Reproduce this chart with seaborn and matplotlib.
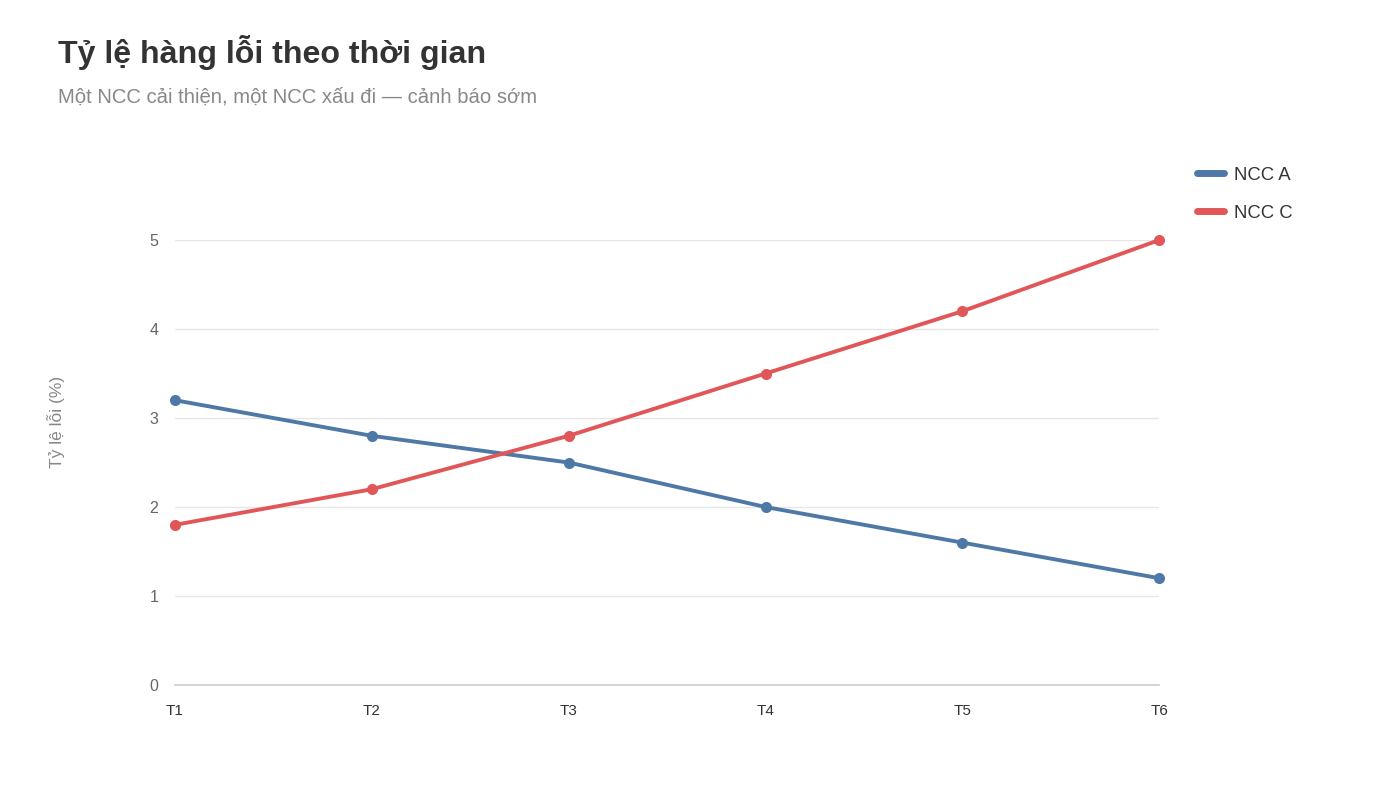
import matplotlib
matplotlib.use("Agg")
import matplotlib.pyplot as plt
import seaborn as sns
import pandas as pd
from matplotlib.lines import Line2D

periods = ["T1", "T2", "T3", "T4", "T5", "T6"]
ncc_a = [3.2, 2.8, 2.5, 2.0, 1.6, 1.2]
ncc_c = [1.8, 2.2, 2.8, 3.5, 4.2, 5.0]
series_names = ["NCC A", "NCC C"]
colors = ["#4e79a7", "#e15759"]
y_ticks = [0, 1, 2, 3, 4, 5]

title = "Tỷ lệ hàng lỗi theo thời gian"
subtitle = "Một NCC cải thiện, một NCC xấu đi — cảnh báo sớm"
y_label = "Tỷ lệ lỗi (%)"

df = pd.DataFrame({
    "period": periods * 2,
    "x": list(range(len(periods))) * 2,
    "value": ncc_a + ncc_c,
    "series": [series_names[0]] * len(periods) + [series_names[1]] * len(periods),
})

sns.set_theme(style="white")
plt.rcParams["font.family"] = ["Liberation Sans", "DejaVu Sans"]

fig = plt.figure(figsize=(14, 7.87), dpi=100)
ax = fig.add_axes([0.125, 0.1296, 0.703, 0.5654])

sns.lineplot(data=df, x="x", y="value", hue="series", palette=colors,
             marker="o", markersize=8, markeredgewidth=0, linewidth=2.8,
             ax=ax, legend=False)
for line in ax.lines:
    line.set_clip_on(False)

ax.set_xlim(0, len(periods) - 1)
ax.set_ylim(0, 5)
ax.set_xticks(range(len(periods)))
ax.set_xticklabels(periods, fontsize=11, color="#333333")
ax.set_yticks(y_ticks)
ax.set_yticklabels([str(t) for t in y_ticks], fontsize=11.5, color="#666666")
ax.tick_params(axis="x", length=0, pad=14)
ax.tick_params(axis="y", length=0, pad=12)
ax.grid(axis="y", color="#e6e6e6", linewidth=1)
ax.set_axisbelow(True)
for s in ["top", "right", "left"]:
    ax.spines[s].set_visible(False)
ax.spines["bottom"].set_color("#cccccc")
ax.spines["bottom"].set_linewidth(1.2)
ax.set_xlabel("")
ax.set_ylabel("")

fig.text(56 / 1400, 1 - 422 / 787, y_label, rotation=90, fontsize=12.5,
         color="#888888", ha="center", va="center")

fig.text(58 / 1400, 1 - 53 / 787, title, fontsize=23.1, fontweight="bold",
         color="#333333", ha="left", va="center")
fig.text(58 / 1400, 1 - 97 / 787, subtitle, fontsize=14.6,
         color="#888888", ha="left", va="center")

handles = [Line2D([0], [0], color=c, linewidth=5, solid_capstyle="round") for c in colors]
leg = fig.legend(handles, series_names, loc="upper left",
                 bbox_to_anchor=(1180 / 1400, 1 - 150 / 787), frameon=False,
                 fontsize=13.3, handlelength=1.5, handletextpad=0.55,
                 labelspacing=1.15, labelcolor="#333333")

fig.savefig("out.png", dpi=100, facecolor="white")
